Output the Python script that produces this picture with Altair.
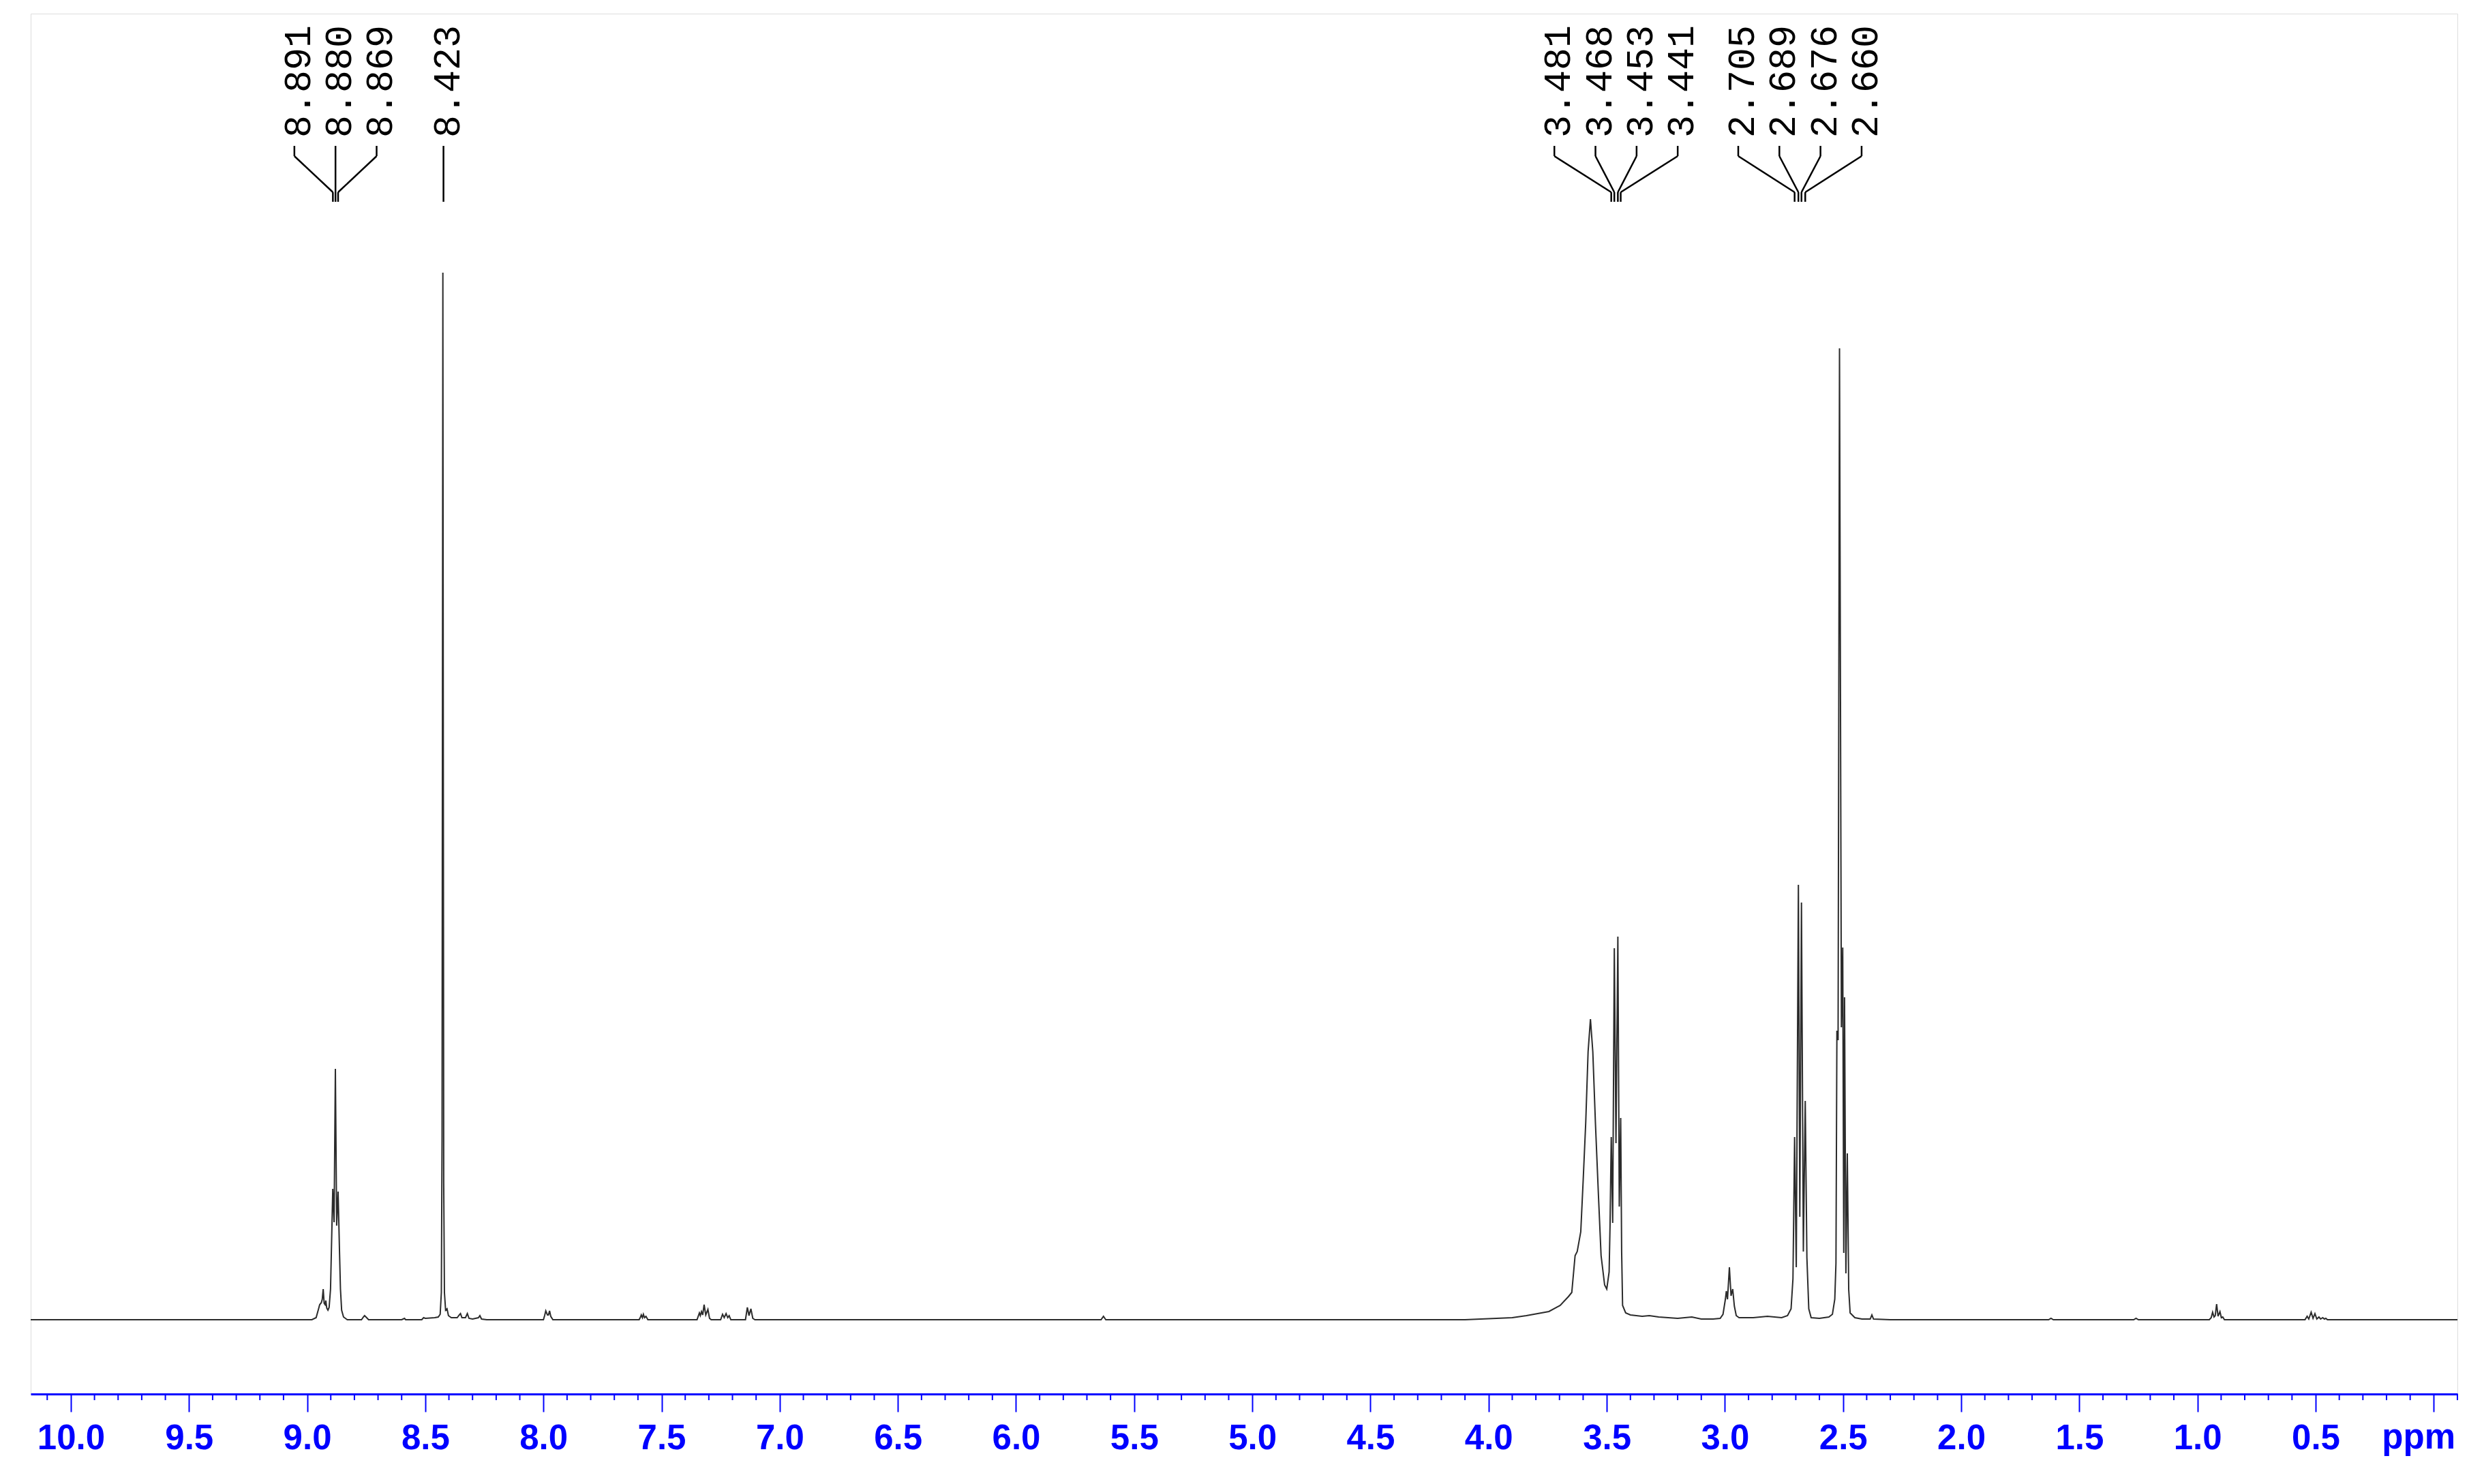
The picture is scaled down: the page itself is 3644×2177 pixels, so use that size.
import altair as alt
import pandas as pd

# ---------------- data (ppm, intensity) ----------------
# intensity in arbitrary units (tallest peak at 8.423 ppm = 1536)
region_aromatic_nh = [
    (10.17, 0), (8.98, 0), (8.962, 3), (8.950, 18), (8.947, 22), (8.940, 25),
    (8.936, 30), (8.932, 45), (8.928, 24), (8.924, 22), (8.921, 28), (8.917, 17),
    (8.912, 14), (8.907, 18), (8.901, 45), (8.8915, 192), (8.886, 143),
    (8.8805, 368), (8.875, 138), (8.869, 188), (8.863, 100), (8.859, 45),
    (8.854, 14), (8.846, 4), (8.83, 0),
    (8.77, 0), (8.762, 4), (8.757, 6), (8.751, 4), (8.74, 0),
    (8.60, 0), (8.588, 2), (8.583, 0), (8.515, 0), (8.507, 3), (8.50, 2),
    (8.46, 3), (8.445, 4), (8.437, 8), (8.432, 40), (8.429, 270),
    (8.4256, 1536), (8.422, 200), (8.419, 40), (8.414, 14), (8.408, 16),
    (8.402, 6), (8.39, 3), (8.365, 3), (8.356, 7), (8.351, 9), (8.345, 3),
    (8.33, 3), (8.322, 9), (8.315, 2), (8.30, 1), (8.275, 3), (8.269, 6),
    (8.262, 1), (8.24, 0),
]
region_small_aromatic = [
    (8.00, 0), (7.995, 6), (7.990, 13), (7.983, 7), (7.979, 7), (7.974, 13),
    (7.969, 5), (7.96, 0),
    (7.595, 0), (7.589, 4), (7.586, 7), (7.581, 3), (7.577, 8), (7.572, 3),
    (7.566, 5), (7.558, 0),
    (7.35, 0), (7.345, 5), (7.340, 10), (7.336, 6), (7.331, 12), (7.326, 7),
    (7.320, 22), (7.313, 7), (7.304, 15), (7.297, 2), (7.29, 0),
    (7.25, 0), (7.242, 8), (7.235, 3), (7.227, 9), (7.220, 3), (7.214, 6),
    (7.207, 0),
    (7.145, 0), (7.137, 18), (7.130, 6), (7.122, 16), (7.114, 2), (7.105, 0),
    (5.64, 0), (5.63, 5), (5.62, 0),
]
region_water_ch2 = [
    (4.10, 0), (3.90, 3), (3.84, 6), (3.745, 12), (3.697, 21), (3.662, 34),
    (3.648, 40), (3.634, 94), (3.625, 100), (3.61, 129), (3.60, 203),
    (3.589, 289), (3.579, 393), (3.569, 441), (3.559, 393), (3.548, 289),
    (3.535, 181), (3.524, 94), (3.509, 51), (3.500, 45), (3.490, 70),
    (3.486, 140), (3.481, 268), (3.475, 142), (3.468, 545), (3.461, 259),
    (3.453, 562), (3.447, 166), (3.441, 296), (3.437, 100), (3.433, 21),
    (3.42, 10), (3.40, 7), (3.35, 5), (3.32, 6), (3.28, 4), (3.20, 2),
    (3.14, 4), (3.10, 1), (3.05, 1),
]
region_aliphatic = [
    (3.02, 2), (3.008, 8), (2.998, 30), (2.994, 42), (2.989, 30), (2.981, 77),
    (2.974, 35), (2.967, 45), (2.960, 20), (2.952, 6), (2.94, 3), (2.88, 3),
    (2.82, 5), (2.76, 3), (2.735, 6), (2.72, 16), (2.712, 60), (2.705, 268),
    (2.698, 77), (2.689, 638), (2.683, 151), (2.676, 612), (2.668, 100),
    (2.660, 321), (2.653, 91), (2.645, 16), (2.635, 3), (2.60, 2), (2.56, 4),
    (2.545, 8), (2.535, 30), (2.53, 83), (2.526, 424), (2.521, 410),
    (2.515, 1425), (2.507, 429), (2.5014, 546), (2.497, 98), (2.4937, 473),
    (2.488, 68), (2.482, 244), (2.476, 44), (2.470, 10), (2.45, 3), (2.42, 1),
    (2.385, 1), (2.378, 7), (2.371, 1), (2.30, 0),
]
region_highfield = [
    (1.63, 0), (1.62, 2), (1.61, 0), (1.27, 0), (1.26, 2), (1.25, 0),
    (0.95, 0), (0.942, 3), (0.936, 11), (0.930, 4), (0.925, 6), (0.919, 23),
    (0.913, 5), (0.905, 12), (0.899, 3), (0.893, 4), (0.886, 0),
    (0.545, 0), (0.536, 5), (0.529, 1), (0.519, 11), (0.511, 2), (0.503, 9),
    (0.495, 1), (0.486, 4), (0.479, 1), (0.470, 3), (0.463, 1), (0.457, 2),
    (0.45, 0), (-0.1, 0),
]

# peak-pick labels (groups of annotated peaks)
peak_groups = [
    [8.891, 8.880, 8.869],
    [8.423],
    [3.481, 3.468, 3.453, 3.441],
    [2.705, 2.689, 2.676, 2.660],
]

# axis ticks
major_ticks = [10.0, 9.5, 9.0, 8.5, 8.0, 7.5, 7.0, 6.5, 6.0, 5.5, 5.0,
               4.5, 4.0, 3.5, 3.0, 2.5, 2.0, 1.5, 1.0, 0.5, 0.0]
minor_ticks = [round(i / 10, 1) for i in range(-1, 102) if i % 5 != 0]

# ---------------- layout ----------------
PLOT_W, PLOT_H = 3560, 2025
LABEL_STEP = 0.174          # ppm between neighbouring peak labels
Y_TEXT, Y_TOP, Y_K1, Y_K2, Y_BOT = 182, 194, 209, 262, 276
BLUE = "#0000ff"

spectrum = pd.DataFrame(
    sorted(region_aromatic_nh + region_small_aromatic + region_water_ch2
           + region_aliphatic + region_highfield, key=lambda p: -p[0]),
    columns=["ppm", "intensity"],
)

rows = []
for grp in peak_groups:
    center = sum(grp) / len(grp)
    n = len(grp)
    for i, p in enumerate(grp):
        lab = center + ((n - 1) / 2 - i) * LABEL_STEP
        rows.append({"peak": p, "label_ppm": lab, "text": f"{p:.3f}"})
labels = pd.DataFrame(rows)
minor_df = pd.DataFrame({"tick": minor_ticks})

xscale = alt.Scale(domain=[-0.1, 10.17], reverse=True, nice=False, zero=False)
xaxis = alt.Axis(
    values=major_ticks, title=None, grid=False,
    labelExpr="datum.value == 0 ? '' : format(datum.value, '.1f')",
    domainColor=BLUE, domainWidth=3, tickColor=BLUE, tickWidth=2, tickSize=26,
    labelColor=BLUE, labelFont="Liberation Sans", labelFontWeight="bold",
    labelFontSize=51, labelPadding=14, labelFlush=False, labelOverlap=False,
)


def X(field):
    return alt.X(field, type="quantitative", scale=xscale, axis=xaxis)


yscale = alt.Scale(domain=[-109, PLOT_H - 109], nice=False, zero=False)

line = alt.Chart(spectrum).mark_line(color="#2b2b2b", strokeWidth=2).encode(
    x=X("ppm"),
    y=alt.Y("intensity:Q", scale=yscale, axis=None),
)

minor = alt.Chart(minor_df).mark_rule(color=BLUE, strokeWidth=2).encode(
    x=X("tick"), y=alt.value(PLOT_H), y2=alt.value(PLOT_H + 9)
)

texts = alt.Chart(labels).mark_text(
    angle=270, align="left", baseline="middle", dy=6,
    font="Liberation Mono", fontSize=55, color="black",
).encode(x=X("label_ppm"), y=alt.value(Y_TEXT), text="text:N")

seg1 = alt.Chart(labels).mark_rule(color="black", strokeWidth=2.5).encode(
    x=X("label_ppm"), y=alt.value(Y_TOP), y2=alt.value(Y_K1)
)
seg2 = alt.Chart(labels).mark_rule(color="black", strokeWidth=2.5).encode(
    x=X("label_ppm"), x2=alt.X2("peak"), y=alt.value(Y_K1), y2=alt.value(Y_K2)
)
seg3 = alt.Chart(labels).mark_rule(color="black", strokeWidth=2.5).encode(
    x=X("peak"), y=alt.value(Y_K2), y2=alt.value(Y_BOT)
)

unit = alt.Chart(pd.DataFrame({"t": ["ppm"]})).mark_text(
    align="right", baseline="top", font="Liberation Sans", fontWeight="bold",
    fontSize=51, color=BLUE,
).encode(text="t:N", x=alt.value(PLOT_W - 3), y=alt.value(PLOT_H + 26 + 14))

chart = alt.layer(line, minor, seg1, seg2, seg3, texts, unit).properties(
    width=PLOT_W, height=PLOT_H,
    autosize=alt.AutoSizeParams(type="none"),
    padding={"left": 37, "top": 12, "right": 31, "bottom": 120},
).configure_view(stroke=None).configure(background="white")

chart.save("out.html", embed_options={"renderer": "svg", "actions": False})
